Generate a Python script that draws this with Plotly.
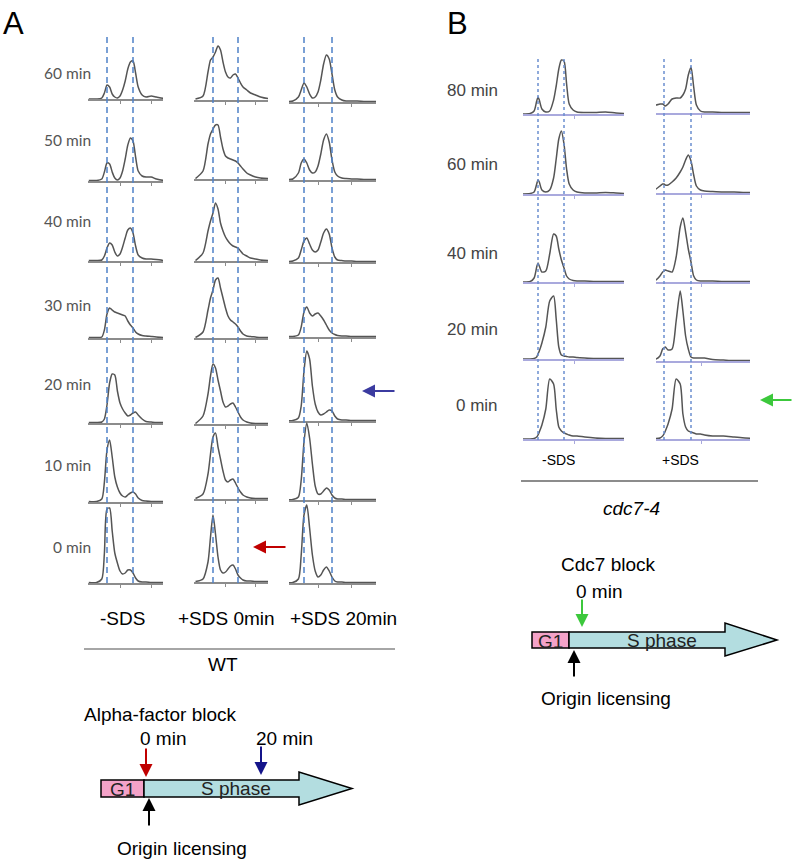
import plotly.graph_objects as go

W, H = 793, 861

# DNA content grid (in C units) used for every flow-cytometry profile
DNA_A = [0.3, 0.6, 0.8, 0.9, 1.0, 1.1, 1.2, 1.3, 1.4, 1.5, 1.6, 1.7, 1.8, 1.9,
         2.0, 2.1, 2.2, 2.35, 2.5, 2.7, 2.9, 3.2, 3.6]
DNA_B = [0.4, 0.7, 0.85, 0.95, 1.0, 1.05, 1.15, 1.3, 1.45, 1.6, 1.7, 1.8, 1.9,
         2.0, 2.1, 2.2, 2.35, 2.5, 2.8, 3.2, 3.6, 4.0, 4.4]

# Panel A (WT) - rows 60, 50, 40, 30, 20, 10, 0 min
TIMES_A = ['60 min', '50 min', '40 min', '30 min', '20 min', '10 min', '0 min']
COLS_A = ['-SDS', '+SDS 0min', '+SDS 20min']

WT_NO_SDS = [
    [0, 0, 1, 6, 14, 12, 5, 2, 1, 3, 9, 18, 30, 37, 38, 26, 12, 4, 2, 3, 2, 0.5, 0.5],
    [0.5, 0.5, 2, 9, 18, 17, 9, 3, 1, 3, 10, 22, 36, 43, 40, 24, 10, 5, 4, 4, 2, 0.5, 0.5],
    [0.5, 0.5, 1, 5, 13, 18, 16, 9, 5, 7, 14, 23, 31, 33, 28, 15, 6, 3, 2, 2, 1.5, 0.5, 0.5],
    [0.5, 0.5, 1, 8, 24, 30, 28, 26, 25, 24, 23, 22, 17, 13, 10, 6, 4, 2.5, 2, 1.5, 1, 0.5, 0.5],
    [0.5, 0.5, 1, 4, 18, 40, 49, 48, 32, 20, 14, 10, 7, 8, 10, 11, 8, 4, 1.5, 1, 0.5, 0.5, 0.5],
    [0.5, 0.5, 3, 20, 52, 62, 45, 25, 15, 9, 6, 5, 7, 9, 10, 8, 4, 1.5, 1, 0.5, 0.5, 0.5, 0.5],
    [0.5, 0.5, 4, 30, 74, 75, 52, 30, 20, 12, 9, 10, 13, 13, 10, 5, 2, 1, 1, 0.5, 0.5, 0.5, 0.5],
]
WT_SDS_0 = [
    [1, 4, 28, 40, 43, 48, 54, 50, 38, 28, 23, 22, 25, 26, 22, 17, 13, 10, 7, 5, 3, 1.5, 1],
    [0.5, 8, 35, 45, 50, 54, 54, 42, 30, 23, 21, 20, 19, 18, 16, 13, 10, 6, 4, 2, 1, 0.5, 0.5],
    [0.5, 8, 30, 40, 48, 58, 52, 38, 30, 24, 20, 17, 15, 14, 13, 10, 7, 5, 3, 2, 1, 0.5, 0.5],
    [0.5, 6, 28, 40, 48, 58, 60, 50, 40, 30, 22, 18, 16, 14, 11, 7, 4, 2, 1.5, 1, 0.5, 0.5, 0.5],
    [0.5, 8, 30, 48, 60, 56, 44, 33, 22, 17, 18, 20, 21, 17, 12, 7, 4, 2, 1, 0.5, 0.5, 0.5, 0.5],
    [0.5, 5, 25, 45, 62, 66, 52, 40, 28, 19, 17, 19, 20, 16, 11, 7, 4, 2, 1, 0.5, 0.5, 0.5, 0.5],
    [0.5, 3, 20, 45, 67, 48, 25, 12, 9, 10, 13, 16, 17, 13, 7, 4, 2, 1, 1, 0.5, 0.5, 0.5, 0.5],
]
WT_SDS_20 = [
    [0.5, 1, 5, 12, 19, 15, 8, 4, 5, 10, 22, 38, 47, 43, 28, 12, 5, 2, 1, 1, 1, 0.5, 0.5],
    [0.5, 1, 7, 17, 21, 17, 10, 7, 8, 14, 26, 40, 46, 38, 20, 8, 4, 2, 1.5, 1, 1, 0.5, 0.5],
    [0.5, 1, 4, 12, 21, 24, 18, 12, 10, 12, 20, 29, 33, 28, 14, 5, 2, 1.5, 1, 1, 0.5, 0.5, 0.5],
    [0.5, 0.5, 2, 10, 25, 30, 24, 21, 23, 24, 21, 17, 12, 7, 4, 2.5, 1.5, 1, 1, 0.5, 0.5, 0.5, 0.5],
    [0.5, 0.5, 3, 15, 50, 70, 62, 35, 17, 9, 6, 7, 9, 11, 10, 5, 2, 1, 1, 0.5, 0.5, 0.5, 0.5],
    [0.5, 0.5, 3, 20, 58, 77, 62, 36, 14, 6, 6, 9, 12, 10, 5, 2, 1, 1, 0.5, 0.5, 0.5, 0.5, 0.5],
    [0.5, 0.5, 4, 28, 68, 78, 55, 28, 12, 6, 8, 13, 16, 12, 6, 2, 1, 1, 0.5, 0.5, 0.5, 0.5, 0.5],
]

# Panel B (cdc7-4) - rows 80, 60, 40, 20, 0 min
TIMES_B = ['80 min', '60 min', '40 min', '20 min', '0 min']
COLS_B = ['-SDS', '+SDS']

CDC7_NO_SDS = [
    [0, 0.5, 3, 13, 17, 14, 5, 2, 3, 14, 28, 45, 54, 53, 30, 10, 4, 2, 1.5, 1.5, 2, 1, 0.5],
    [0, 0.5, 2, 10, 14, 12, 4, 2, 4, 16, 35, 55, 63, 50, 25, 10, 4, 2, 1, 1, 1.5, 1, 0.5],
    [0, 0.5, 4, 15, 19, 16, 10, 11, 28, 48, 46, 33, 22, 14, 6, 3, 1.5, 1, 1, 0.5, 0.5, 0.5, 0.5],
    [0, 0, 0.5, 2, 5, 8, 16, 32, 58, 63, 40, 12, 4, 3, 2.5, 2, 2, 1.5, 1, 0.5, 0.5, 0.5, 0.5],
    [0, 0, 0.5, 2, 4, 7, 14, 30, 60, 55, 30, 12, 8, 6, 5, 4, 3, 3, 2, 1, 0.5, 0.5, 0.5],
]
CDC7_SDS = [
    [8, 8, 9, 9, 8, 7, 9, 14, 15, 15, 18, 24, 38, 46, 26, 8, 2, 1, 1, 0.5, 0.5, 0.5, 0.5],
    [4, 4, 7, 9, 9, 8, 8, 11, 15, 21, 26, 33, 38, 32, 18, 7, 3, 2, 1.5, 1, 1, 0.5, 0.5],
    [1, 2, 6, 10, 11, 12, 11, 10, 25, 55, 64, 50, 33, 20, 6, 2, 1, 1, 1, 0.5, 0.5, 0.5, 0.5],
    [1, 2, 5, 12, 13, 14, 11, 12, 40, 70, 50, 25, 12, 4, 3, 3, 3, 3, 1.5, 1, 0.5, 0.5, 0.5],
    [0.5, 0.5, 1, 3, 5, 8, 15, 30, 60, 55, 25, 12, 8, 7, 6, 5, 5, 4, 3, 3, 2, 1, 0.5],
]

CELL_H = 85  # pixel height of each small histogram axis


def px(x):
    return x / W


def py(y):
    return 1 - y / H


# layout of the histogram columns (pixel positions on the page)
panel_a = [
    dict(left=88, right=163, c1=107, c2=133, base=[99, 181, 261, 338, 423, 502, 583], data=WT_NO_SDS),
    dict(left=194, right=268, c1=213, c2=238, base=[100, 179, 261, 338, 424, 499, 582], data=WT_SDS_0),
    dict(left=289, right=376, c1=304, c2=332, base=[102, 180, 262, 337, 421, 500, 583], data=WT_SDS_20),
]
panel_b = [
    dict(left=523, right=624, c1=538, c2=564, base=[114, 194, 282, 359, 439], data=CDC7_NO_SDS),
    dict(left=656, right=750, c1=664, c2=691, base=[113, 193, 282, 361, 439], data=CDC7_SDS),
]

fig = go.Figure()
layout = {}
shapes = []
n = 0


def add_column(col, dna, base_color, dash_color, dash, dash_top, dash_bot, tickvals):
    global n
    scale = col['c2'] - col['c1']
    lo = (col['left'] - col['c1']) / scale + 1
    hi = (col['right'] - col['c1']) / scale + 1
    first = None
    for base, vals in zip(col['base'], col['data']):
        n += 1
        xname = 'x' if n == 1 else 'x%d' % n
        yname = 'y' if n == 1 else 'y%d' % n
        if first is None:
            first = xname
        layout['xaxis' if n == 1 else 'xaxis%d' % n] = dict(
            domain=[px(col['left']), px(col['right'])], range=[lo, hi],
            anchor=yname, showgrid=False, zeroline=False, showline=True,
            linecolor=base_color, linewidth=2, ticks='outside', ticklen=3,
            tickcolor=base_color, tickvals=tickvals, showticklabels=False)
        layout['yaxis' if n == 1 else 'yaxis%d' % n] = dict(
            domain=[py(base), py(base - CELL_H)], range=[0, CELL_H],
            anchor=xname, visible=False)
        fig.add_trace(go.Scatter(x=dna, y=vals, xaxis=xname, yaxis=yname,
                                 mode='lines', line=dict(color='#555555', width=1.5,
                                                         shape='spline', smoothing=0.7),
                                 hoverinfo='skip'))
    # G1 / G2 guide lines
    for c in [1, 2]:
        shapes.append(dict(type='line', xref=first, yref='paper', x0=c, x1=c,
                           y0=py(dash_bot), y1=py(dash_top),
                           line=dict(color=dash_color, width=1.5, dash=dash)))


for col in panel_a:
    add_column(col, DNA_A, '#8c8c8c', '#4f81c7', '6px,4px', 35, 583, [1.5, 2.7])
for col in panel_b:
    add_column(col, DNA_B, '#a9a9dd', '#6b8fcf', '3px,3px', 58, 440, [2.4])

annotations = []


def label(text, x, y, size, color='black', family='Liberation Sans, Arial', xanchor='center', italic=False):
    t = '<i>%s</i>' % text if italic else text
    annotations.append(dict(text=t, x=px(x), y=py(y), xref='paper', yref='paper',
                            showarrow=False, xanchor=xanchor, yanchor='middle',
                            font=dict(size=size, color=color, family=family)))


def arrow(x, y, ax, ay, color):
    annotations.append(dict(text='', x=px(x), y=py(y), xref='paper', yref='paper',
                            ax=ax, ay=ay, showarrow=True, arrowhead=2, arrowsize=1.3,
                            arrowwidth=2, arrowcolor=color, standoff=0))


# panel letters
label('A', 13, 24, 31)
label('B', 457, 24, 31)

# row labels
for t, y in zip(TIMES_A, [73, 140, 221, 305, 384, 465, 547]):
    label(t, 93, y, 15.5, color='#555555', family='Lato, Open Sans', xanchor='right')
for t, y in zip(TIMES_B, [90, 165, 253, 330, 405]):
    label(t, 500, y, 17, color='#444444', xanchor='right')

# column labels
for t, x in zip(COLS_A, [123, 226, 343]):
    label(t, x, 618, 19)
for t, x in zip(COLS_B, [558, 680]):
    label(t, x, 460, 14)

shapes.append(dict(type='line', xref='paper', yref='paper', x0=px(84), x1=px(395),
                   y0=py(649), y1=py(649), line=dict(color='#888888', width=1.5)))
label('WT', 223, 664, 19)
shapes.append(dict(type='line', xref='paper', yref='paper', x0=px(521), x1=px(758),
                   y0=py(481), y1=py(481), line=dict(color='#666666', width=1.5)))
label('cdc7-4', 631, 508, 19, italic=True)

# highlighted time points
arrow(253, 547, 34, 0, '#c00000')
arrow(362, 391, 34, 0, '#3b3ba0')
arrow(760, 400, 33, 0, '#3cc83c')


# cell-cycle schematics
def schematic(g1_left, split, body_right, tip, top, bot, head_top, head_bot):
    mid = (top + bot) / 2
    shapes.append(dict(type='rect', xref='paper', yref='paper',
                       x0=px(g1_left), x1=px(split), y0=py(bot), y1=py(top),
                       fillcolor='#f4a2c8', line=dict(color='black', width=1.5)))
    pts = [(split, top), (body_right, top), (body_right, head_top), (tip, mid),
           (body_right, head_bot), (body_right, bot), (split, bot)]
    path = 'M ' + ' L '.join('%f,%f' % (px(a), py(b)) for a, b in pts) + ' Z'
    shapes.append(dict(type='path', xref='paper', yref='paper', path=path,
                       fillcolor='#b3dde0', line=dict(color='black', width=1.5)))
    label('G1', (g1_left + split) / 2, mid + 1, 19, color='#222222')
    label('S phase', (split + body_right) / 2 + 15, mid, 19, color='#222222')


schematic(101, 144, 299, 352, 780, 797, 772, 805)
label('Alpha-factor block', 160, 714, 19)
label('0 min', 163, 738, 19)
label('20 min', 284, 738, 19)
arrow(146, 777, 0, -30, '#c00000')
arrow(261, 775, 0, -30, '#14148a')
arrow(149, 798, 0, 29, 'black')
label('Origin licensing', 182, 848, 19)

schematic(532, 569, 725, 777, 632, 648, 623, 656)
label('Cdc7 block', 608, 564, 19)
label('0 min', 599, 591, 19)
arrow(582, 627, 0, -29, '#3cc83c')
arrow(574, 650, 0, 28, 'black')
label('Origin licensing', 606, 698, 19)

fig.update_layout(**layout)
fig.update_layout(width=W, height=H, margin=dict(l=0, r=0, t=0, b=0),
                  paper_bgcolor='white', plot_bgcolor='rgba(0,0,0,0)',
                  showlegend=False, shapes=shapes, annotations=annotations)

# drop the browser's default page margin so the figure fills the window
fig.write_html("out.html", config={'displayModeBar': False},
               post_script="document.body.style.margin='0';")
